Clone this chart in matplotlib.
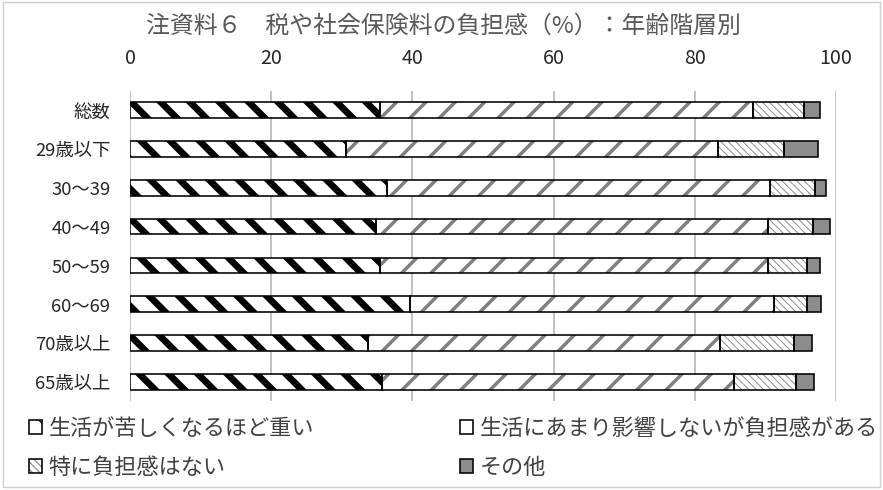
import matplotlib
matplotlib.use("Agg")
import matplotlib.pyplot as plt
import numpy as np
from matplotlib.patches import Patch, Rectangle

plt.rcParams["font.family"] = ["Noto Sans CJK JP", "DejaVu Sans"]

categories = ["総数", "29歳以下", "30～39", "40～49", "50～59", "60～69", "70歳以上", "65歳以上"]
series_names = [
    "生活が苦しくなるほど重い",
    "生活にあまり影響しないが負担感がある",
    "特に負担感はない",
    "その他",
]
heavy = [35.4, 30.6, 36.4, 34.8, 35.4, 39.7, 33.7, 35.7]
burden = [52.8, 52.7, 54.2, 55.5, 54.9, 51.5, 49.8, 49.9]
no_burden = [7.2, 9.3, 6.4, 6.5, 5.6, 4.7, 10.6, 8.8]
other = [2.4, 4.9, 1.6, 2.3, 1.8, 2.0, 2.5, 2.5]
xticks = [0, 20, 40, 60, 80, 100]

# fill, hatch, hatch colour, hatch line width (pt)
styles = [
    ("white", "\\", "black", 5.5),
    ("white", "/", "#7f7f7f", 2.8),
    ("white", "\\\\\\\\", "#8c8c8c", 0.8),
    ("#8c8c8c", None, "#8c8c8c", 1.0),
]

DPI = 88.3
fig = plt.figure(figsize=(883 / DPI, 490.4 / DPI), dpi=DPI)
W, H = 883, 490
ax = fig.add_axes([130 / W, 1 - 401.4 / H, (836 - 130) / W, (401.4 - 91) / H])

y = np.arange(len(categories))
left = np.zeros(len(categories))
handles = []
for vals, (fc, hatch, hc, hlw) in zip([heavy, burden, no_burden, other], styles):
    # hatch colour follows the edge colour, so draw the pattern and the outline separately
    with plt.rc_context({"hatch.linewidth": hlw}):
        ax.barh(y, vals, left=left, height=0.4, color=fc, hatch=hatch,
                edgecolor=hc, linewidth=0, zorder=2)
    with plt.rc_context({"hatch.linewidth": min(hlw, 4.0)}):
        hp = Patch(facecolor=fc, hatch=hatch, edgecolor=hc, linewidth=0)
    ax.barh(y, vals, left=left, height=0.4, fill=False, edgecolor="black",
            linewidth=1.3, zorder=3)
    handles.append((hp, Patch(fill=False, edgecolor="black", linewidth=1.3)))
    left += np.array(vals)

ax.set_xlim(0, 100)
ax.set_ylim(len(categories) - 0.5, -0.5)
ax.set_xticks(xticks)
ax.set_yticks(y, categories)
ax.xaxis.tick_top()
ax.tick_params(axis="x", length=0, pad=18, labelsize=16, labelcolor="#262626")
ax.tick_params(axis="y", length=0, pad=16, labelsize=15, labelcolor="#262626")
ax.grid(axis="x", color="#b3b3b3", linewidth=1.3, zorder=0)
ax.set_axisbelow(True)
for s in ax.spines.values():
    s.set_visible(False)

fig.text(443 / W, 1 - 26 / H, "注資料６　税や社会保険料の負担感（%）：年齢階層別",
         ha="center", va="center", fontsize=19.5, color="#595959")

order = [0, 2, 1, 3]
fig.legend([handles[i] for i in order], [series_names[i] for i in order],
           ncol=2, loc="upper left", bbox_to_anchor=(29 / W, 1 - 418 / H),
           frameon=False, fontsize=18, labelcolor="#404040",
           handlelength=0.6, handleheight=0.6, handletextpad=0.3,
           columnspacing=6.6, labelspacing=0.75, borderaxespad=0, borderpad=0)

fig.add_artist(Rectangle((3.5 / W, 2.5 / H), 1 - 6.5 / W, 1 - 5 / H,
                         transform=fig.transFigure, fill=False,
                         edgecolor="#d0d0d0", linewidth=1.2))

fig.savefig("out.png", dpi=DPI)
